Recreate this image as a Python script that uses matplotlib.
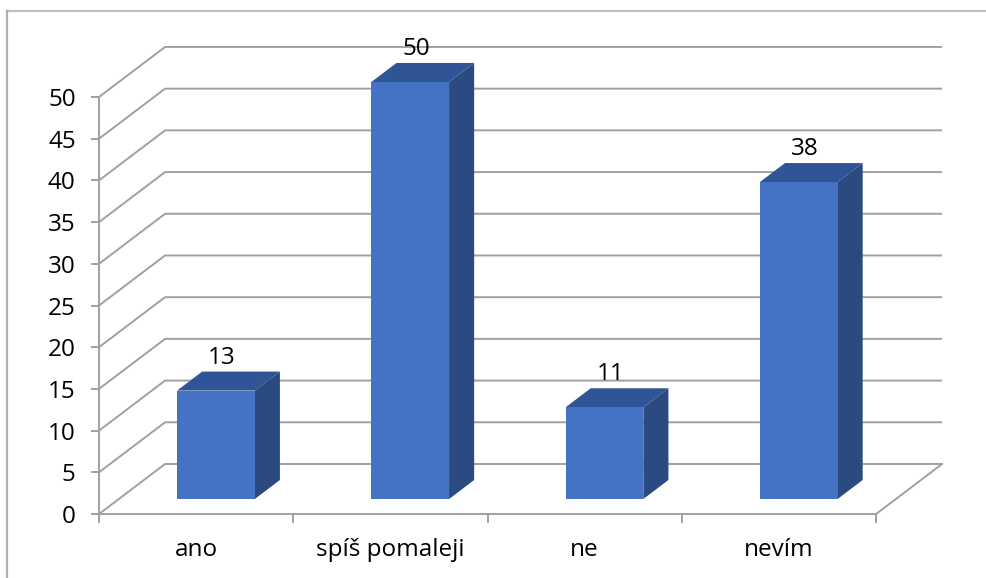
import numpy as np
import matplotlib as mpl
mpl.use('Agg')
import matplotlib.pyplot as plt
from matplotlib.patches import Polygon

categories = ['ano', 'spíš pomaleji', 'ne', 'nevím']
values = [13, 50, 11, 38]
y_ticks = list(range(0, 55, 5))

# oblique projection of the 3d box: depth 1.0 = back wall
DEPTH_X = 0.34   # in category units
DEPTH_Y = 6.0    # in value units
BAR_FRONT = 0.30
BAR_BACK = 0.68
BAR_W = 0.40

FRONT = '#4472C4'
TOP = '#2F5597'
SIDE = '#2B4A80'
GRID = '#A0A0A0'

plt.rcParams['font.family'] = ['Open Sans', 'DejaVu Sans']


def proj(x, v, d):
    return (x + d * DEPTH_X, v + d * DEPTH_Y)


fig = plt.figure(figsize=(9.86, 5.78), dpi=100)
ax = fig.add_axes([0, 0, 1, 1])
ax.set_xlim(-0.5097, 4.566)
ax.set_ylim(-7.67, 61.63)
ax.axis('off')

n = len(categories)

# outer frame (only top and left edges fall inside the image)
fig.add_artist(plt.Line2D([7 / 986, 1.0], [1 - 10.5 / 578] * 2, color='#C0C0C0', lw=1.6))
fig.add_artist(plt.Line2D([7 / 986] * 2, [0, 1 - 10.5 / 578], color='#B0B0B0', lw=1.6))

# gridlines: left wall diagonal then along the back wall
for v in y_ticks:
    p0 = proj(0, v, 0)
    p1 = proj(0, v, 1)
    p2 = proj(n, v, 1)
    ax.plot([p0[0], p1[0], p2[0]], [p0[1], p1[1], p2[1]], color=GRID, lw=1.4,
            solid_capstyle='butt', zorder=1)

# floor front edge and right edge
a = proj(0, 0, 0)
b = proj(n, 0, 0)
c = proj(n, 0, 1)
ax.plot([a[0], b[0], c[0]], [a[1], b[1], c[1]], color=GRID, lw=1.4, zorder=1)

# value axis
ax.plot([0, 0], [0, max(y_ticks)], color=GRID, lw=1.4, zorder=1)
for v in y_ticks:
    ax.plot([-0.036, 0], [v, v], color=GRID, lw=1.4, zorder=1)
    ax.text(-0.12, v, str(v), ha='right', va='center_baseline', fontsize=17.5,
            color='black')

# category axis ticks and labels
for i in range(n + 1):
    ax.plot([i, i], [0, -1.0], color=GRID, lw=1.4, zorder=1)
for i, lab in enumerate(categories):
    ax.text(i + 0.5, -4.35, lab, ha='center', va='center', fontsize=17.5, color='black')

# 3d columns
for i, val in enumerate(values):
    x0 = i + 0.5 - BAR_W / 2
    x1 = i + 0.5 + BAR_W / 2
    f00 = proj(x0, 0, BAR_FRONT)
    f10 = proj(x1, 0, BAR_FRONT)
    f11 = proj(x1, val, BAR_FRONT)
    f01 = proj(x0, val, BAR_FRONT)
    b10 = proj(x1, 0, BAR_BACK)
    b11 = proj(x1, val, BAR_BACK)
    b01 = proj(x0, val, BAR_BACK)
    ax.add_patch(Polygon([f10, b10, b11, f11], closed=True, facecolor=SIDE,
                         edgecolor='none', zorder=3))
    ax.add_patch(Polygon([f01, f11, b11, b01], closed=True, facecolor=TOP,
                         edgecolor='none', zorder=3))
    ax.add_patch(Polygon([f00, f10, f11, f01], closed=True, facecolor=FRONT,
                         edgecolor='none', zorder=4))
    tx, ty = proj(i + 0.5, val, BAR_FRONT)
    ax.text(tx + 0.03, ty + 4.3, str(val), ha='center', va='center_baseline',
            fontsize=17.5, color='black', zorder=5)

fig.savefig('out.png', dpi=100)
